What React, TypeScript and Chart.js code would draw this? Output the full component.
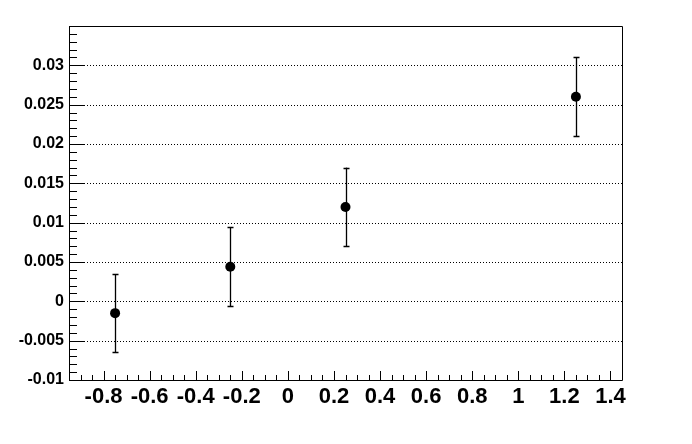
import React, { useEffect, useRef } from "react";
import { Chart, registerables } from "chart.js";

Chart.register(...registerables);

const xValues = [-0.75, -0.25, 0.25, 1.25];
const yValues = [-0.0015, 0.0044, 0.012, 0.026];
const yErrors = [0.005, 0.005, 0.005, 0.005];

const xTickValues = [-0.8, -0.6, -0.4, -0.2, 0, 0.2, 0.4, 0.6, 0.8, 1, 1.2, 1.4];
const yTickValues = [-0.01, -0.005, 0, 0.005, 0.01, 0.015, 0.02, 0.025, 0.03];
const xRange = [-0.95, 1.45];
const yRange = [-0.01, 0.035];
const xMinorStep = 0.05;
const yMinorStep = 0.001;

const fmt = (v: number) => String(Number(v.toFixed(4)));

const decorPlugin = {
  id: "rootDecor",
  beforeDatasetsDraw(chart: any) {
    const { ctx, chartArea: a, scales } = chart;
    const xs = scales.x;
    const ys = scales.y;
    ctx.save();
    // dotted horizontal grid
    ctx.strokeStyle = "#000";
    ctx.lineWidth = 1;
    ctx.setLineDash([1, 2]);
    yTickValues.forEach((v) => {
      const py = Math.round(ys.getPixelForValue(v)) + 0.5;
      ctx.beginPath();
      ctx.moveTo(a.left, py);
      ctx.lineTo(a.right, py);
      ctx.stroke();
    });
    ctx.setLineDash([]);
    // error bars
    ctx.lineWidth = 1.3;
    xValues.forEach((x, i) => {
      const px = Math.round(xs.getPixelForValue(x)) + 0.5;
      const top = ys.getPixelForValue(yValues[i] + yErrors[i]);
      const bot = ys.getPixelForValue(yValues[i] - yErrors[i]);
      ctx.beginPath();
      ctx.moveTo(px, top);
      ctx.lineTo(px, bot);
      ctx.moveTo(px - 3, Math.round(top) + 0.5);
      ctx.lineTo(px + 3, Math.round(top) + 0.5);
      ctx.moveTo(px - 3, Math.round(bot) + 0.5);
      ctx.lineTo(px + 3, Math.round(bot) + 0.5);
      ctx.stroke();
    });
    ctx.restore();
  },
  afterDraw(chart: any) {
    const { ctx, chartArea: a, scales } = chart;
    const xs = scales.x;
    const ys = scales.y;
    ctx.save();
    ctx.strokeStyle = "#000";
    ctx.lineWidth = 1;
    // frame
    ctx.beginPath();
    ctx.rect(Math.round(a.left) + 0.5, Math.round(a.top) + 0.5, Math.round(a.right - a.left), Math.round(a.bottom - a.top));
    ctx.stroke();
    // y ticks (inside, from left axis)
    const nY = Math.round((yRange[1] - yRange[0]) / yMinorStep);
    for (let k = 0; k <= nY; k++) {
      const v = yRange[0] + k * yMinorStep;
      const major = k % 5 === 0;
      const py = Math.round(ys.getPixelForValue(v)) + 0.5;
      ctx.beginPath();
      ctx.moveTo(a.left, py);
      ctx.lineTo(a.left + (major ? 16 : 8), py);
      ctx.stroke();
    }
    // x ticks (inside, from bottom axis)
    const nX = Math.round((xRange[1] - xRange[0]) / xMinorStep);
    for (let k = 1; k < nX; k++) {
      const v = xRange[0] + k * xMinorStep;
      const major = (k - 3) % 4 === 0;
      const px = Math.round(xs.getPixelForValue(v)) + 0.5;
      ctx.beginPath();
      ctx.moveTo(px, a.bottom);
      ctx.lineTo(px, a.bottom - (major ? 9 : 5));
      ctx.stroke();
    }
    ctx.restore();
  },
};

export default function App() {
  const ref = useRef<HTMLCanvasElement>(null);
  useEffect(() => {
    if (!ref.current) return;
    const chart = new Chart(ref.current, {
      type: "scatter",
      data: {
        datasets: [
          {
            data: xValues.map((x, i) => ({ x, y: yValues[i] })),
            backgroundColor: "#000",
            borderColor: "#000",
            borderWidth: 0,
            pointRadius: 5,
            pointHoverRadius: 5,
          },
        ],
      },
      options: {
        responsive: false,
        animation: false,
        events: [],
        layout: { padding: { top: 26, right: 70, left: 0, bottom: 0 } },
        plugins: { legend: { display: false }, tooltip: { enabled: false } },
        scales: {
          x: {
            type: "linear",
            min: xRange[0],
            max: xRange[1],
            grid: { display: false, drawTicks: false },
            border: { display: false },
            afterBuildTicks: (s: any) => {
              s.ticks = xTickValues.map((value) => ({ value }));
            },
            afterFit: (s: any) => {
              s.height = 64;
            },
            ticks: {
              padding: 4,
              maxRotation: 0,
              autoSkip: false,
              color: "#000",
              font: { family: "'Liberation Sans', Arial, sans-serif", size: 22, weight: "bold" },
              callback: (v: any) => fmt(Number(v)),
            },
          },
          y: {
            type: "linear",
            min: yRange[0],
            max: yRange[1],
            grid: { display: false, drawTicks: false },
            border: { display: false },
            afterBuildTicks: (s: any) => {
              s.ticks = yTickValues.map((value) => ({ value }));
            },
            afterFit: (s: any) => {
              s.width = 69;
            },
            ticks: {
              padding: 5,
              autoSkip: false,
              color: "#000",
              font: { family: "'Liberation Sans', Arial, sans-serif", size: 16, weight: "bold" },
              callback: (v: any) => fmt(Number(v)),
            },
          },
        },
      },
      plugins: [decorPlugin],
    } as any);
    return () => chart.destroy();
  }, []);
  return (
    <div style={{ position: "absolute", left: 0, top: 0, width: 692, height: 444, background: "#fff" }}>
      <canvas ref={ref} width={692} height={444} style={{ width: 692, height: 444, display: "block" }} />
    </div>
  );
}
